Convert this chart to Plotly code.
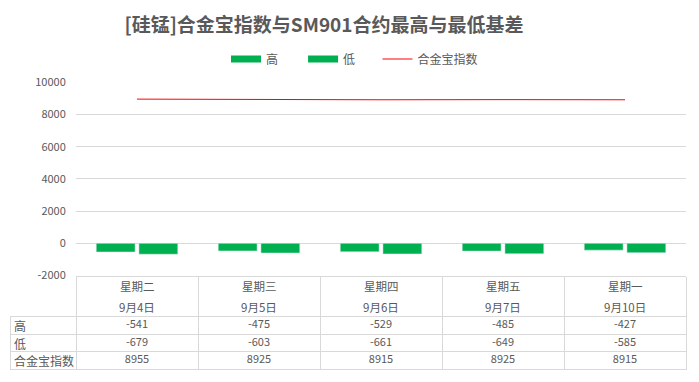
import plotly.graph_objects as go

weekdays = ["星期二", "星期三", "星期四", "星期五", "星期一"]
dates = ["9月4日", "9月5日", "9月6日", "9月7日", "9月10日"]
high = [-541, -475, -529, -485, -427]
low = [-679, -603, -661, -649, -585]
index_vals = [8955, 8925, 8915, 8925, 8915]
row_labels = ["高", "低", "合金宝指数"]
y_ticks = [-2000, 0, 2000, 4000, 6000, 8000, 10000]

W, H = 699, 382
FONT = "Noto Sans CJK SC"
GRID = "#d9d9d9"
TXT = "#595959"
GREEN = "#00B050"

def px_x(p):
    return p / W

def px_y(p):
    return (H - p) / H

fig = go.Figure()
fig.add_trace(go.Bar(name="高", x=weekdays, y=high, marker_color=GREEN,
                     legendgroup="high", showlegend=False))
fig.add_trace(go.Bar(name="低", x=weekdays, y=low, marker_color=GREEN,
                     legendgroup="low", showlegend=False))
# legend keys drawn as flat wide swatches (Excel style); names padded to space the entries
fig.add_trace(go.Scatter(name="高\u3000\u00a0\u00a0\u00a0", x=[None], y=[None], mode="lines",
                         line=dict(color=GREEN, width=7), legendgroup="high", hoverinfo="skip"))
fig.add_trace(go.Scatter(name="低\u3000\u00a0\u00a0", x=[None], y=[None], mode="lines",
                         line=dict(color=GREEN, width=7), legendgroup="low", hoverinfo="skip"))
fig.add_trace(go.Scatter(name="合金宝指数", x=weekdays, y=index_vals, mode="lines",
                         line=dict(color="#FF0000", width=1)))

# data table below the chart, drawn on its own pair of category axes
table_rows = [high, low, index_vals]
for label, vals in zip(row_labels, table_rows):
    fig.add_trace(go.Scatter(
        x=weekdays, y=[label] * len(weekdays), text=[str(v) for v in vals],
        mode="text", textposition="middle center",
        textfont=dict(family=FONT, size=11, color=TXT),
        xaxis="x2", yaxis="y2", showlegend=False, hoverinfo="skip"))

for label in row_labels:
    fig.add_annotation(x=px_x(12), xref="paper", xanchor="left", y=label, yref="y2",
                       text=label, showarrow=False,
                       font=dict(family=FONT, size=12, color=TXT))

for wd, dt in zip(weekdays, dates):
    fig.add_annotation(x=wd, y=px_y(286), xref="x", yref="paper", text=wd, showarrow=False,
                       font=dict(family=FONT, size=11.5, color=TXT), yanchor="middle")
    fig.add_annotation(x=wd, y=px_y(306.5), xref="x", yref="paper", text=dt, showarrow=False,
                       font=dict(family=FONT, size=11.5, color=TXT), yanchor="middle")

n = len(weekdays)
left_col = 65 / 122.0

fig.update_layout(
    width=W, height=H,
    margin=dict(l=0, r=0, t=0, b=0, autoexpand=False),
    paper_bgcolor="white", plot_bgcolor="white",
    barmode="group", bargap=0.3, bargroupgap=0.09,
    font=dict(family=FONT, color=TXT),
    title=dict(text="<b>[硅锰]合金宝指数与SM901合约最高与最低基差</b>",
               x=px_x(324), y=px_y(25), xanchor="center", yanchor="middle",
               automargin=False,
               font=dict(family=FONT, size=19, color=TXT)),
    legend=dict(orientation="h", x=px_x(226), y=px_y(59), xanchor="left", yanchor="middle",
                font=dict(family=FONT, size=12, color=TXT), bgcolor="rgba(0,0,0,0)"),
    xaxis=dict(domain=[px_x(76), px_x(686)], range=[-0.5, n - 0.5], automargin=False,
               categoryorder="array", categoryarray=weekdays,
               showticklabels=False, ticks="outside", tickson="boundaries",
               ticklen=42, tickcolor=GRID, tickwidth=1,
               showline=True, linecolor=GRID, linewidth=1, showgrid=False, fixedrange=True),
    yaxis=dict(domain=[px_y(275.5), px_y(82.3)], range=[-2000, 10000], automargin=False,
               tickvals=y_ticks, ticktext=[str(v) for v in y_ticks],
               showgrid=True, gridcolor=GRID, gridwidth=1,
               zeroline=True, zerolinecolor=GRID, zerolinewidth=1,
               ticks="outside", ticklen=7, tickcolor="rgba(0,0,0,0)",
               tickfont=dict(family=FONT, size=11, color=TXT), fixedrange=True),
    xaxis2=dict(domain=[px_x(11), px_x(686)], anchor="y2", automargin=False,
                range=[-0.5 - left_col, n - 0.5],
                categoryorder="array", categoryarray=weekdays,
                showticklabels=False, ticks="", tickson="boundaries",
                showgrid=True, gridcolor=GRID, gridwidth=1,
                showline=True, mirror=True, linecolor=GRID, linewidth=1,
                zeroline=False, fixedrange=True),
    yaxis2=dict(domain=[px_y(369.3), px_y(317)], anchor="x2", automargin=False,
                range=[len(row_labels) - 0.5, -0.5],
                categoryorder="array", categoryarray=row_labels,
                showticklabels=False, ticks="", tickson="boundaries",
                showgrid=True, gridcolor=GRID, gridwidth=1,
                showline=True, mirror=True, linecolor=GRID, linewidth=1,
                zeroline=False, fixedrange=True),
)

fig.write_html("out.html")
